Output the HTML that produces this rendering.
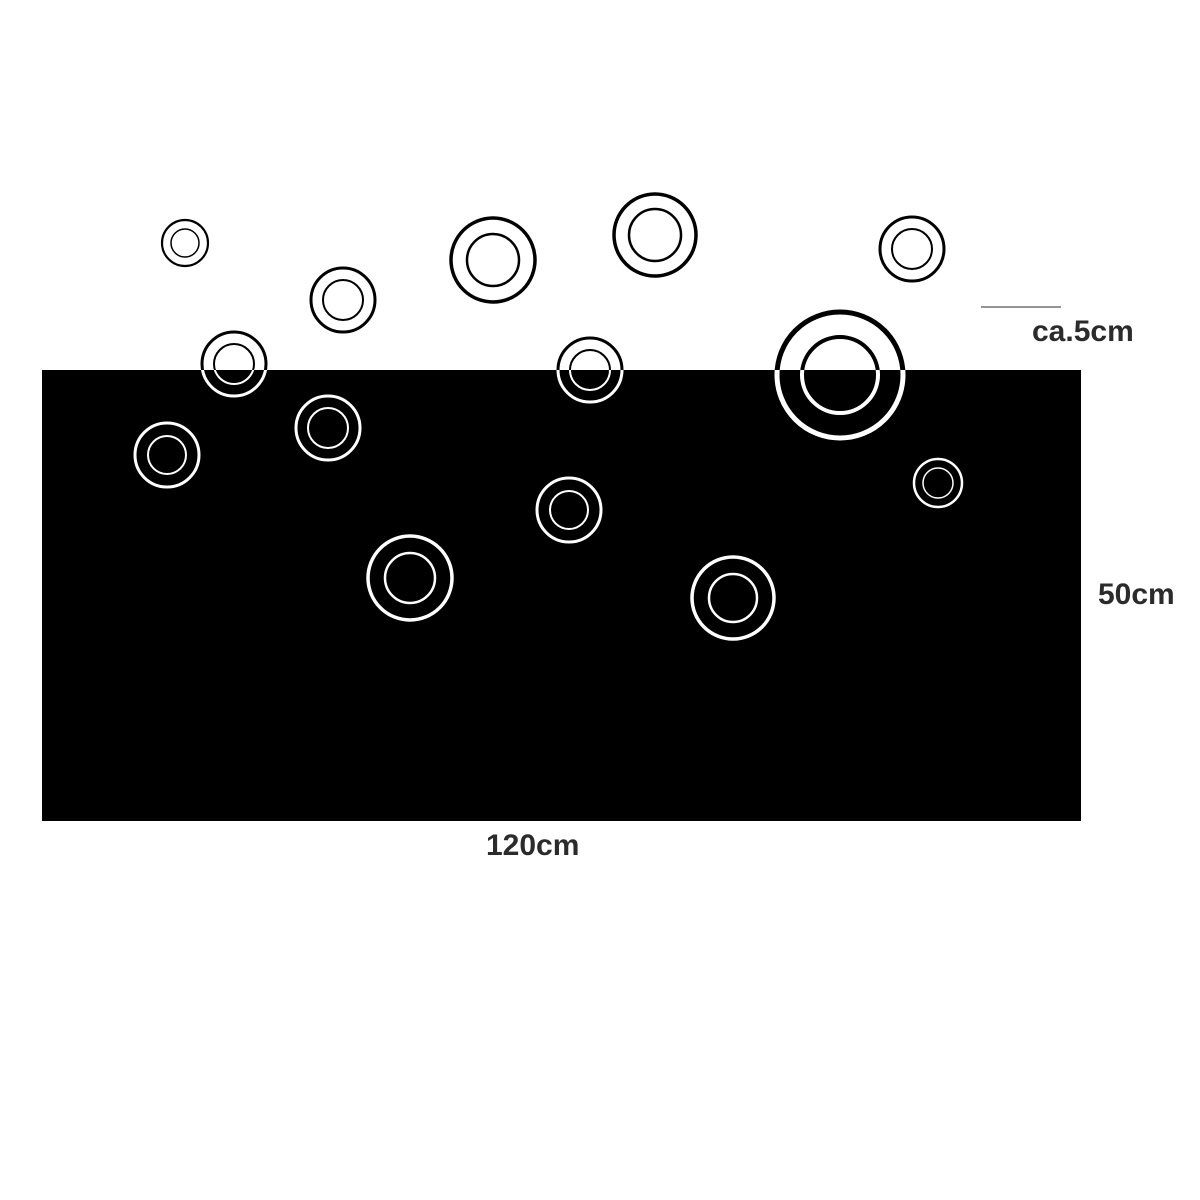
<!DOCTYPE html>
<html><head><meta charset="utf-8"><style>
html,body{margin:0;padding:0;background:#fff;}
svg{display:block}
text{font-family:"Liberation Sans",Arial,sans-serif;font-weight:bold;fill:#2b2b2b;font-size:30px}
</style></head><body>
<svg width="1200" height="1200" viewBox="0 0 1200 1200" xmlns="http://www.w3.org/2000/svg">
<defs><clipPath id="r"><rect x="42" y="370" width="1039" height="451"/></clipPath></defs>
<g id="c" fill="none" stroke="#000">
<circle cx="185" cy="243" r="23" stroke-width="2.2"/><circle cx="185" cy="243" r="14" stroke-width="1.5"/>
<circle cx="343" cy="300" r="32" stroke-width="3"/><circle cx="343" cy="300" r="20" stroke-width="2"/>
<circle cx="493" cy="260" r="42" stroke-width="3.5"/><circle cx="493" cy="260" r="26" stroke-width="2.5"/>
<circle cx="655" cy="235" r="41" stroke-width="3.5"/><circle cx="655" cy="235" r="26" stroke-width="2.5"/>
<circle cx="912" cy="249" r="32" stroke-width="3"/><circle cx="912" cy="249" r="20" stroke-width="2"/>
<circle cx="234" cy="364" r="32" stroke-width="3"/><circle cx="234" cy="364" r="20" stroke-width="2"/>
<circle cx="590" cy="370" r="32" stroke-width="3"/><circle cx="590" cy="370" r="20" stroke-width="2"/>
<circle cx="840" cy="375" r="63" stroke-width="5"/><circle cx="840" cy="375" r="38" stroke-width="4"/>
</g>
<rect x="42" y="370" width="1039" height="451" fill="#000"/>
<g clip-path="url(#r)" fill="none" stroke="#fff">
<circle cx="234" cy="364" r="32" stroke-width="3"/><circle cx="234" cy="364" r="20" stroke-width="2"/>
<circle cx="590" cy="370" r="32" stroke-width="3"/><circle cx="590" cy="370" r="20" stroke-width="2"/>
<circle cx="840" cy="375" r="63" stroke-width="5"/><circle cx="840" cy="375" r="38" stroke-width="4"/>
<circle cx="167" cy="455" r="32" stroke-width="3"/><circle cx="167" cy="455" r="19" stroke-width="2"/>
<circle cx="328" cy="428" r="32" stroke-width="3"/><circle cx="328" cy="428" r="20" stroke-width="2"/>
<circle cx="569" cy="510" r="32" stroke-width="3"/><circle cx="569" cy="510" r="19" stroke-width="2"/>
<circle cx="410" cy="578" r="42" stroke-width="3.5"/><circle cx="410" cy="578" r="25" stroke-width="2.5"/>
<circle cx="733" cy="598" r="41" stroke-width="3.5"/><circle cx="733" cy="598" r="24" stroke-width="2.5"/>
<circle cx="938" cy="483" r="24" stroke-width="2.5"/><circle cx="938" cy="483" r="15" stroke-width="1.5"/>
</g>
<line x1="981" y1="307" x2="1061" y2="307" stroke="#555" stroke-width="1.2"/>
<text x="1032" y="341">ca.5cm</text>
<text x="1098" y="604">50cm</text>
<text x="486" y="855">120cm</text>
</svg>
</body></html>
